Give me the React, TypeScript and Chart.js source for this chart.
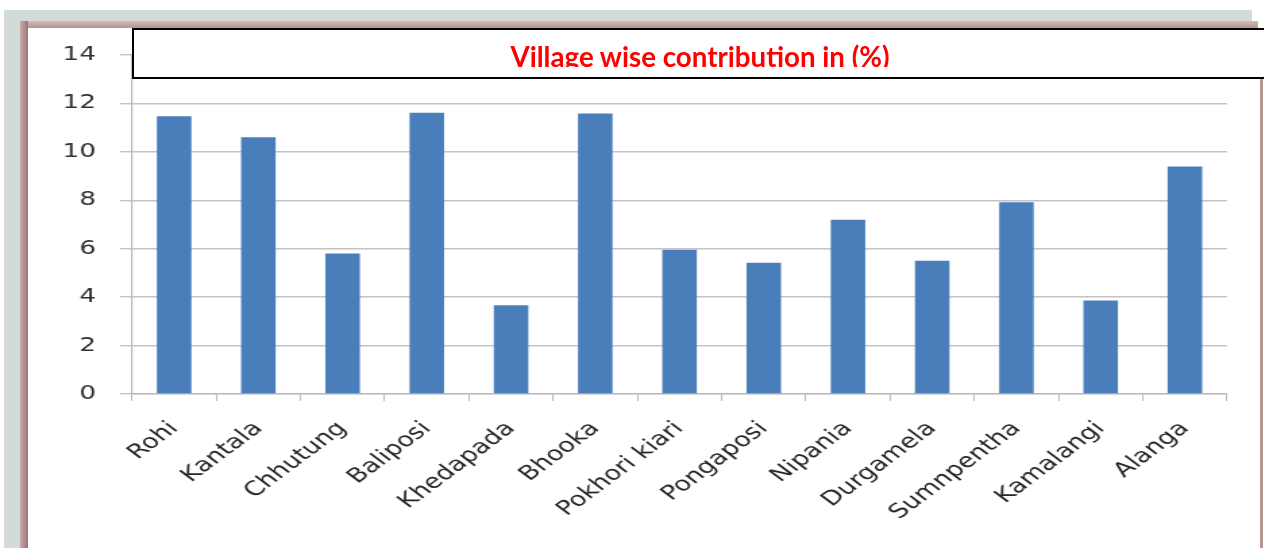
import React, { useEffect, useRef } from "react";
import { Chart, registerables } from "chart.js";

Chart.register(...registerables);

const categories = [
  "Rohi",
  "Kantala",
  "Chhutung",
  "Baliposi",
  "Khedapada",
  "Bhooka",
  "Pokhori kiari",
  "Pongaposi",
  "Nipania",
  "Durgamela",
  "Sumnpentha",
  "Kamalangi",
  "Alanga",
];

const contribution = [11.47, 10.6, 5.8, 11.62, 3.67, 11.58, 5.96, 5.42, 7.2, 5.5, 7.92, 3.86, 9.4];

const yMin = 0;
const yMax = 14;
const yStep = 2;

const titleText = "Village wise contribution in (%)";

const STRETCH = 1.35;
const VIEW_W = 1264;
const VIEW_H = 548;
const INNER_W = VIEW_W / STRETCH;

export default function App() {
  const ref = useRef<HTMLCanvasElement>(null);

  useEffect(() => {
    if (!ref.current) return;
    const chart = new Chart(ref.current, {
      type: "bar",
      data: {
        labels: categories,
        datasets: [
          {
            data: contribution,
            backgroundColor: "#4a7ebb",
            borderWidth: 0,
            barPercentage: 0.41,
            categoryPercentage: 1,
          },
        ],
      },
      options: {
        animation: false,
        responsive: true,
        maintainAspectRatio: false,
        layout: {
          padding: { left: 0, right: INNER_W - 1227 / STRETCH, top: 55, bottom: 0 },
        },
        plugins: {
          legend: { display: false },
          tooltip: { enabled: false },
          title: { display: false },
        },
        scales: {
          x: {
            offset: true,
            grid: {
              display: true,
              offset: true,
              drawOnChartArea: false,
              drawTicks: true,
              tickLength: 7,
              color: "#b8b8b8",
              lineWidth: 1,
            },
            border: { color: "#b8b8b8", width: 1.3 },
            ticks: {
              autoSkip: false,
              minRotation: 45,
              maxRotation: 45,
              padding: 16,
              color: "#262626",
              font: { family: "DejaVu Sans", size: 20 },
            },
            afterFit: (s: any) => {
              s.height = VIEW_H - 394;
            },
          },
          y: {
            min: yMin,
            max: yMax,
            ticks: {
              stepSize: yStep,
              padding: 17.7,
              color: "#303030",
              font: { family: "DejaVu Sans", size: 19.5 },
            },
            grid: { color: "#c4c4c4", lineWidth: 1.4, tickLength: 9 },
            border: { color: "#b8b8b8", width: 1.2 },
            afterFit: (s: any) => {
              s.width = 132 / STRETCH;
            },
          },
        },
      },
    });
    return () => chart.destroy();
  }, []);

  return (
    <div
      style={{
        position: "fixed",
        left: 0,
        top: 0,
        width: VIEW_W,
        height: VIEW_H,
        overflow: "hidden",
        background: "#ffffff",
      }}
    >
      <div
        style={{
          position: "absolute",
          left: 0,
          top: 0,
          width: INNER_W,
          height: VIEW_H,
          transform: `scaleX(${STRETCH})`,
          transformOrigin: "0 0",
        }}
      >
        <canvas ref={ref} />
      </div>
      {/* frame */}
      <div style={{ position: "absolute", left: 4, top: 10, width: 1248, height: 12, background: "#d3dada" }} />
      <div style={{ position: "absolute", left: 4, top: 10, width: 17, height: 538, background: "#d3dada" }} />
      <div
        style={{
          position: "absolute",
          left: 20,
          top: 21,
          width: 1238,
          height: 7,
          background: "linear-gradient(#d4bab5, #b39490)",
        }}
      />
      <div
        style={{
          position: "absolute",
          left: 20,
          top: 21,
          width: 8,
          height: 527,
          background: "linear-gradient(to right, #c8aaa6, #98767a)",
        }}
      />
      <div style={{ position: "absolute", left: 1260, top: 79, width: 3, height: 469, background: "#b89894" }} />
      {/* title box */}
      <div
        style={{
          position: "absolute",
          left: 132,
          top: 28,
          width: 1136,
          height: 51,
          border: "2px solid #000000",
          boxSizing: "border-box",
          background: "#ffffff",
        }}
      >
        <div style={{ position: "absolute", left: 0, right: 0, top: 0, height: 37, overflow: "hidden" }}>
          <div
            style={{
              position: "absolute",
              left: 0,
              right: 0,
              top: 10,
              textAlign: "center",
              fontFamily: "Lato",
              fontWeight: 700,
              fontSize: 27.7,
              lineHeight: "33px",
              color: "#ff0000",
              whiteSpace: "nowrap",
            }}
          >
            {titleText}
          </div>
        </div>
      </div>
    </div>
  );
}
